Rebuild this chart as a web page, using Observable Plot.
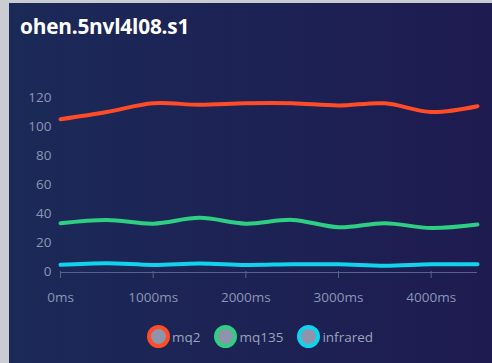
<!DOCTYPE html>
<html>
<head>
<meta charset="utf-8">
<script src="https://cdn.jsdelivr.net/npm/d3@7"></script>
<script src="https://cdn.jsdelivr.net/npm/@observablehq/plot@0.6"></script>
<style>
  html, body { margin: 0; padding: 0; }
  body { width: 492px; height: 363px; overflow: hidden; font-family: "Open Sans", sans-serif; }
  #wrap { position: relative; width: 492px; height: 363px; background: linear-gradient(to right, #1b2a58, #1e1b50); overflow: hidden; }
  #lborder { position: absolute; left: 0; top: 0; width: 9px; height: 363px; background: #c9cdd2; }
  #tborder { position: absolute; left: 0; top: 0; width: 492px; height: 3px; background: #c9cdd2; }
  #title { position: absolute; left: 20px; top: 12px; color: #ffffff; font-size: 20.8px; font-weight: 700; letter-spacing: -0.2px; }
  #chart { position: absolute; left: 0; top: 0; }
  #legend { position: absolute; left: 147px; top: 325px; display: flex; align-items: center; font-size: 13.5px; color: #9aa3bd; }
  .item { display: flex; align-items: center; margin-right: 14px; }
  .dot { width: 15px; height: 15px; border-radius: 50%; border: 4px solid; background: #8e95aa; margin-right: 2px; }
</style>
</head>
<body>
<div id="wrap">
  <div id="chart"></div>
  <div id="lborder"></div>
  <div id="tborder"></div>
  <div id="title">ohen.5nvl4l08.s1</div>
  <div id="legend"></div>
</div>
<script>
const times = [0, 500, 1000, 1500, 2000, 2500, 3000, 3500, 4000, 4500];
const mq2 = [105, 110, 116, 115, 116, 116, 114.5, 116, 110, 114];
const mq135 = [33.3, 35.6, 33, 37, 33, 35.6, 30.5, 33.3, 30, 32.4];
const infrared = [4.6, 5.7, 4.5, 5.5, 4.5, 5, 5, 4, 5, 5];
const seriesNames = ["mq2", "mq135", "infrared"];
const seriesColors = ["#ff4b26", "#2ecf82", "#11d3ee"];
const xTicks = [0, 1000, 2000, 3000, 4000];
const yTicks = [0, 20, 40, 60, 80, 100, 120];

const seriesValues = [mq2, mq135, infrared];
const data = [];
seriesNames.forEach((name, i) => {
  times.forEach((t, j) => data.push({ series: name, t, v: seriesValues[i][j] }));
});

const chart = Plot.plot({
  width: 492,
  height: 320,
  marginLeft: 60,
  marginRight: 15,
  marginTop: 97,
  marginBottom: 49,
  style: { background: "transparent", fontFamily: "Open Sans, sans-serif", fontSize: "13.5px", color: "#8a96b8", overflow: "visible" },
  x: { domain: [0, 4500] },
  y: { domain: [0, 120] },
  color: { domain: seriesNames, range: seriesColors },
  marks: [
    Plot.axisY({ ticks: yTicks, tickSize: 0, tickPadding: 9, label: null, fill: "#8a96b8", fontSize: 13.5 }),
    Plot.axisX({ ticks: xTicks, tickFormat: d => d + "ms", tickSize: 7, tickPadding: 14, label: null, stroke: "#56648c", fill: "#8a96b8", fontSize: 13.5 }),
    Plot.ruleY([0], { stroke: "#56648c", strokeWidth: 1.2, dy: 1 }),
    Plot.line(data, { x: "t", y: "v", z: "series", stroke: "series", strokeWidth: 4, curve: "catmull-rom" })
  ]
});
document.getElementById("chart").appendChild(chart);

const legend = document.getElementById("legend");
seriesNames.forEach((name, i) => {
  const item = document.createElement("div");
  item.className = "item";
  const dot = document.createElement("span");
  dot.className = "dot";
  dot.style.borderColor = seriesColors[i];
  const label = document.createElement("span");
  label.textContent = name;
  item.appendChild(dot);
  item.appendChild(label);
  legend.appendChild(item);
});
</script>
</body>
</html>
